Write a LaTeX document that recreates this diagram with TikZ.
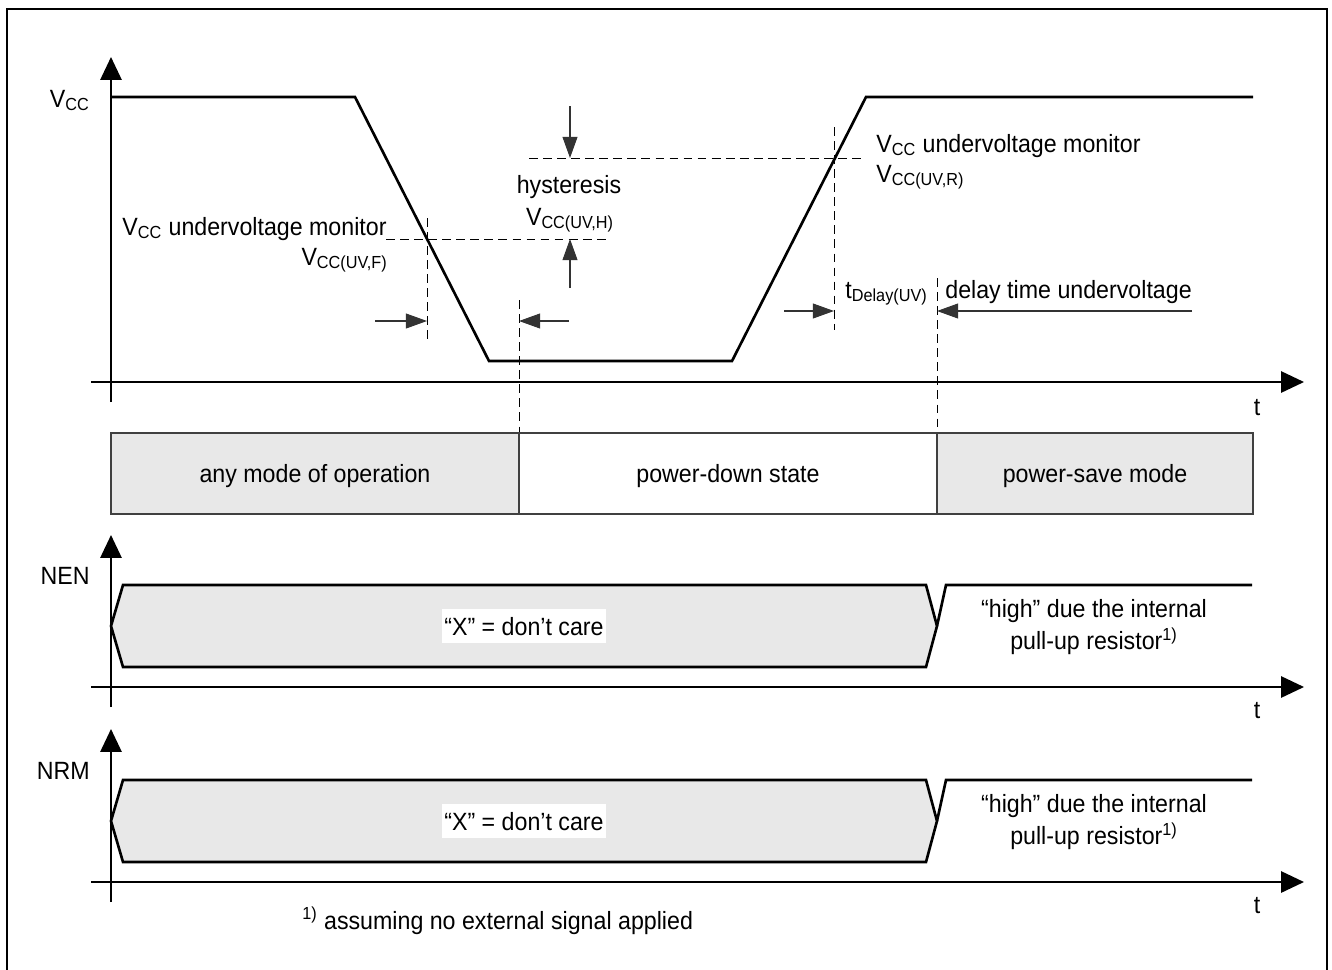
\documentclass[tikz,border=0pt]{standalone}
\usepackage{fontspec}
\setmainfont{Liberation Sans}[FakeStretch=0.93]
\usetikzlibrary{arrows.meta}
\usetikzlibrary{positioning}
\definecolor{modegray}{RGB}{232,232,232}

\begin{document}
\begin{tikzpicture}[x=0.02cm,y=-0.02cm,
        font=\fontsize{14.2}{18.7}\selectfont,
        axis/.style={line width=1.3pt,-{Triangle[length=13pt,width=12pt]}},
        wave/.style={line width=1.5pt,line join=miter},
        guide/.style={line width=0.5pt,dash pattern=on 5pt off 3pt},
        dim/.style={line width=0.6pt,draw=black!80,-{Triangle[length=12pt,width=8.5pt]}},
        modebox/.style={draw=black!75,line width=0.8pt},
        lbl/.style={inner sep=0pt}]
        \useasboundingbox (0,0) rectangle (1332,970);

        % Frame
        \draw[line width=1.1pt] (7,970) -- (7,9) -- (1327,9) -- (1327,970);

        % Vcc curve
        \draw[wave] (111,97) -- (355,97) -- (489,361) -- (732,361) -- (866,97) -- (1253,97);

        % Thresholds
        \draw[guide] (427,218) -- (427,342);
        \draw[guide] (386,239) -- (610,239);
        \draw[guide] (529,158) -- (861,158);
        \draw[guide] (834,127) -- (834,330);
        \draw[guide] (519,300) -- (519,433);
        \draw[guide] (937,278) -- (937,433);
        \draw[dim] (570,106) -- (570,158);
        \draw[dim] (570,288) -- (570,239);
        \draw[dim] (375,321) -- (427,321);
        \draw[dim] (569,321) -- (519,321);
        \draw[dim] (784,311) -- (834,311);
        \draw[dim] (1192,311) -- (937,311);

        % Axes
        \draw[axis] (111,402) -- (111,57);
        \draw[axis] (91,382) -- (1304,382);

        % Labels
        \node[lbl,anchor=base east] (vcc) at (90,107) {V\textsubscript{CC}};
        \node[lbl,anchor=base west] (monf) at (122,235) {V\textsubscript{CC} undervoltage monitor};
        \node[lbl,anchor=base east] (vuvf) at (388,265) {V\textsubscript{CC(UV,F)}};
        \node[lbl,anchor=base] (hyst) at (569,193) {hysteresis};
        \node[lbl,anchor=base] (vuvh) at (570,225) {V\textsubscript{CC(UV,H)}};
        \node[lbl,anchor=base west] (monr) at (876,152) {V\textsubscript{CC} undervoltage monitor};
        \node[lbl,anchor=base west] (vuvr) at (876,182) {V\textsubscript{CC(UV,R)}};
        \node[lbl,anchor=base east] (tdel) at (928,298) {t\textsubscript{Delay(UV)}};
        \node[lbl,anchor=base west] (deltxt) at (945,298) {delay time undervoltage};
        \node[lbl,anchor=base] (t1) at (1257,415) {t};

        % Modes
        \filldraw[modebox,fill=modegray] (111,433) rectangle (519,514);
        \draw[modebox] (519,433) rectangle (937,514);
        \filldraw[modebox,fill=modegray] (937,433) rectangle (1253,514);
        \node[lbl,anchor=base] (anymode) at (315,482) {any mode of operation};
        \node[lbl,anchor=base] (pdown) at (728,482) {power-down state};
        \node[lbl,anchor=base] (psave) at (1095,482) {power-save mode};

        % NEN
        \draw[wave,fill=modegray] (111,626) -- (123,585) -- (926,585) -- (937,626) -- (926,667) -- (123,667) -- cycle;
        \draw[wave] (937,626) -- (946,585) -- (1252,585);
        \draw[axis] (111,707) -- (111,535);
        \draw[axis] (91,687) -- (1304,687);
        \node[lbl,anchor=base east] (nen) at (90,584) {NEN};
        \node[fill=white,inner xsep=1.2pt,inner ysep=4.5pt,anchor=base] (xnen) at (524,635) {“X” = don’t care};
        \node[lbl,align=center] (hinen) at (1094,627) {“high” due the internal\\pull-up resistor\textsuperscript{1)}};
        \node[lbl,anchor=base] (t2) at (1257,718) {t};

        % NRM
        \draw[wave,fill=modegray] (111,821) -- (123,780) -- (926,780) -- (937,821) -- (926,862) -- (123,862) -- cycle;
        \draw[wave] (937,821) -- (946,780) -- (1252,780);
        \draw[axis] (111,902) -- (111,729);
        \draw[axis] (91,882) -- (1304,882);
        \node[lbl,anchor=base east] (nrm) at (90,779) {NRM};
        \node[fill=white,inner xsep=1.2pt,inner ysep=4.5pt,anchor=base] (xnrm) at (524,830) {“X” = don’t care};
        \node[lbl,align=center] (hinrm) at (1094,822) {“high” due the internal\\pull-up resistor\textsuperscript{1)}};
        \node[lbl,anchor=base] (t3) at (1257,913) {t};

        % Footnote
        \node[lbl,anchor=base west] (note) at (302,929) {\textsuperscript{1)} assuming no external signal applied};
    \end{tikzpicture}
\end{document}
